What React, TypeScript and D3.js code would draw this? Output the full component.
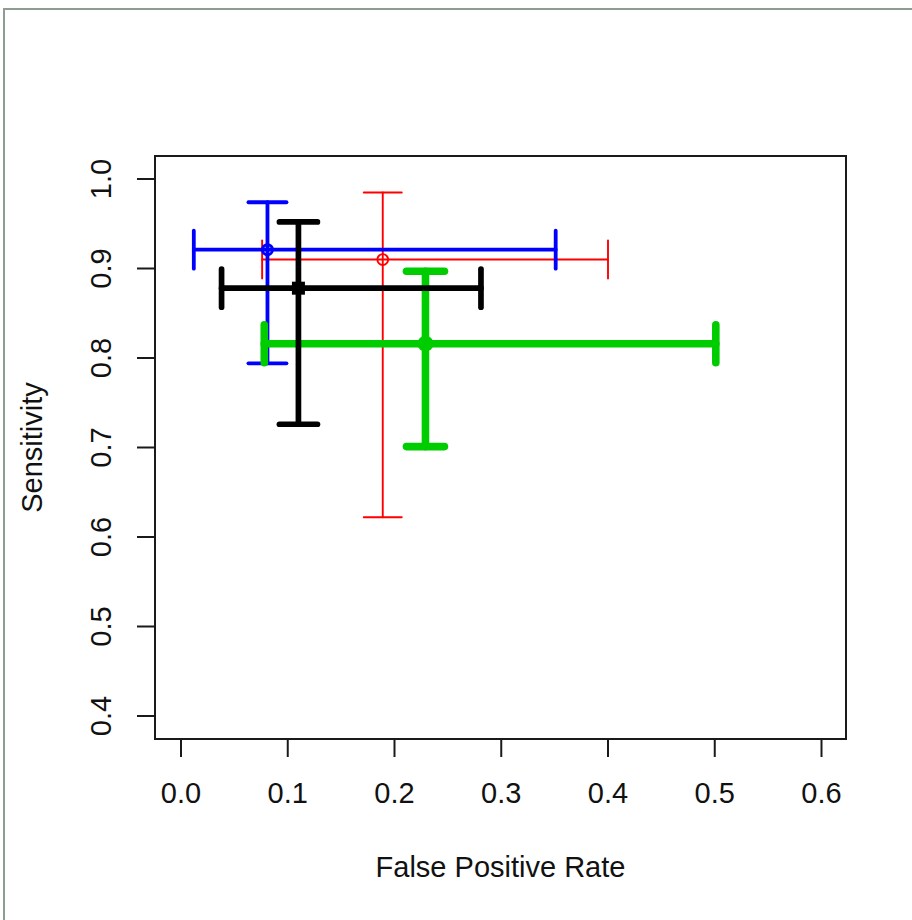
import * as d3 from "d3";
import { useEffect, useRef } from "react";

// valores
const series = ["red", "blue", "green", "black"];
const fpr = [0.189, 0.081, 0.229, 0.110];
const fprLow = [0.076, 0.012, 0.078, 0.038];
const fprHigh = [0.400, 0.351, 0.501, 0.281];
const sens = [0.910, 0.921, 0.816, 0.878];
const sensLow = [0.622, 0.794, 0.701, 0.726];
const sensHigh = [0.985, 0.974, 0.897, 0.952];
const xTicks = [0, 0.1, 0.2, 0.3, 0.4, 0.5, 0.6];
const yTicks = [0.4, 0.5, 0.6, 0.7, 0.8, 0.9, 1.0];

const colores: Record<string, string> = {
  red: "#ff0000",
  blue: "#0000ff",
  green: "#00cd00",
  black: "#000000",
};
const grosor: Record<string, number> = { red: 1.9, blue: 3.8, green: 7.6, black: 5.7 };
const simbolo: Record<string, string> = {
  red: "open",
  blue: "open",
  green: "disc",
  black: "square",
};

const ancho = 912;
const alto = 920;
const caja = { left: 155, right: 846, top: 156, bottom: 739 };
const fuente = "'Liberation Sans', Arial, Helvetica, sans-serif";

export default function App() {
  const ref = useRef<SVGSVGElement | null>(null);

  useEffect(() => {
    if (!ref.current) return;
    const svg = d3.select(ref.current);
    svg.selectAll("*").remove();

    // posiciones de los ticks medidas en la imagen
    const x = d3.scaleLinear().domain([0, 0.6]).range([181, 821.5]);
    const y = d3.scaleLinear().domain([0.4, 1.0]).range([716, 179]);

    svg.append("rect").attr("width", ancho).attr("height", alto).attr("fill", "#fff");

    // marco gris de la ventana
    svg
      .append("path")
      .attr("d", `M4,${alto} L4,9 L${ancho},9`)
      .attr("fill", "none")
      .attr("stroke", "#8d9d91")
      .attr("stroke-width", 2);

    // series con barras de error
    const g = svg.append("g");
    const cap = 19;
    series.forEach((s, i) => {
      const c = colores[s];
      const w = grosor[s];
      const px = x(fpr[i]);
      const py = y(sens[i]);
      const gs = g.append("g").attr("stroke", c).attr("stroke-width", w).attr("stroke-linecap", "round").attr("fill", "none");
      // horizontal
      gs.append("line").attr("x1", x(fprLow[i])).attr("x2", x(fprHigh[i])).attr("y1", py).attr("y2", py);
      gs.append("line").attr("x1", x(fprLow[i])).attr("x2", x(fprLow[i])).attr("y1", py - cap).attr("y2", py + cap);
      gs.append("line").attr("x1", x(fprHigh[i])).attr("x2", x(fprHigh[i])).attr("y1", py - cap).attr("y2", py + cap);
      // vertical
      gs.append("line").attr("x1", px).attr("x2", px).attr("y1", y(sensLow[i])).attr("y2", y(sensHigh[i]));
      gs.append("line").attr("x1", px - cap).attr("x2", px + cap).attr("y1", y(sensLow[i])).attr("y2", y(sensLow[i]));
      gs.append("line").attr("x1", px - cap).attr("x2", px + cap).attr("y1", y(sensHigh[i])).attr("y2", y(sensHigh[i]));

      if (simbolo[s] === "open") {
        g.append("circle")
          .attr("cx", px)
          .attr("cy", py)
          .attr("r", s === "blue" ? 5 : 5.4)
          .attr("fill", "none")
          .attr("stroke", c)
          .attr("stroke-width", s === "blue" ? 3 : 1.9);
      } else if (simbolo[s] === "disc") {
        g.append("circle").attr("cx", px).attr("cy", py).attr("r", 8).attr("fill", c);
      } else {
        g.append("rect").attr("x", px - 6.5).attr("y", py - 6.5).attr("width", 13).attr("height", 13).attr("fill", c);
      }
    });

    // caja del grafico
    svg
      .append("rect")
      .attr("x", caja.left)
      .attr("y", caja.top)
      .attr("width", caja.right - caja.left)
      .attr("height", caja.bottom - caja.top)
      .attr("fill", "none")
      .attr("stroke", "#1a1a1a")
      .attr("stroke-width", 2);

    // eje x
    const ejeX = svg.append("g");
    xTicks.forEach((t) => {
      ejeX.append("line").attr("x1", x(t)).attr("x2", x(t)).attr("y1", caja.bottom).attr("y2", caja.bottom + 18).attr("stroke", "#1a1a1a").attr("stroke-width", 2);
      ejeX
        .append("text")
        .attr("x", x(t))
        .attr("y", 803)
        .attr("text-anchor", "middle")
        .attr("font-family", fuente)
        .attr("font-size", 29)
        .attr("fill", "#111")
        .text(d3.format(".1f")(t));
    });

    // eje y
    const ejeY = svg.append("g");
    yTicks.forEach((t) => {
      ejeY.append("line").attr("x1", caja.left - 18).attr("x2", caja.left).attr("y1", y(t)).attr("y2", y(t)).attr("stroke", "#1a1a1a").attr("stroke-width", 2);
      ejeY
        .append("text")
        .attr("transform", `translate(111,${y(t)}) rotate(-90)`)
        .attr("text-anchor", "middle")
        .attr("font-family", fuente)
        .attr("font-size", 29)
        .attr("fill", "#111")
        .text(d3.format(".1f")(t));
    });

    // titulos de ejes
    svg
      .append("text")
      .attr("x", (caja.left + caja.right) / 2)
      .attr("y", 877)
      .attr("text-anchor", "middle")
      .attr("font-family", fuente)
      .attr("font-size", 29)
      .attr("fill", "#111")
      .text("False Positive Rate");
    svg
      .append("text")
      .attr("transform", `translate(42,${(caja.top + caja.bottom) / 2}) rotate(-90)`)
      .attr("text-anchor", "middle")
      .attr("font-family", fuente)
      .attr("font-size", 29)
      .attr("fill", "#111")
      .text("Sensitivity");
  }, []);

  return (
    <svg
      ref={ref}
      width={ancho}
      height={alto}
      style={{ position: "absolute", left: 0, top: 0, display: "block" }}
    />
  );
}
